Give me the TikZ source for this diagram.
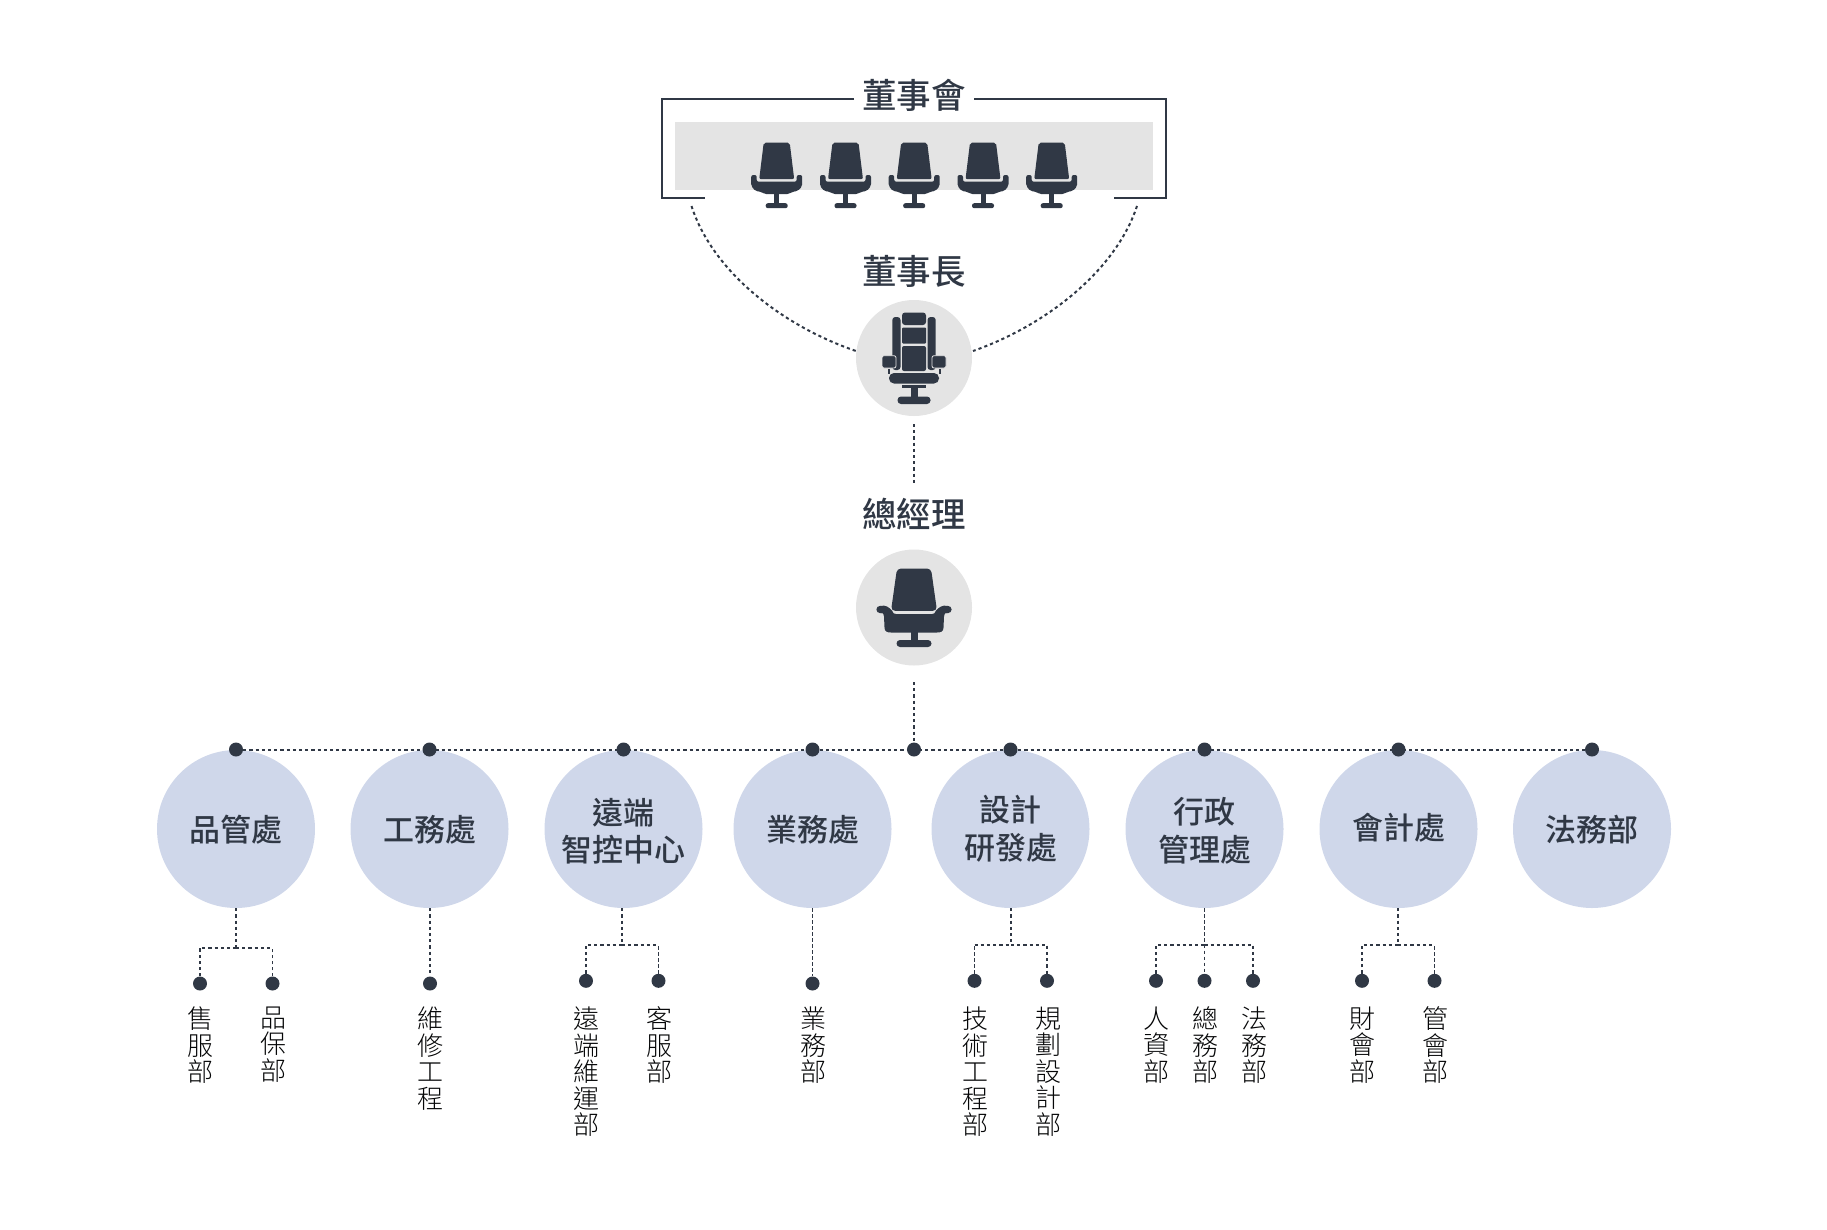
\documentclass[tikz,border=0pt]{standalone}
\usepackage{fontspec}
\newfontfamily\cjk{Noto Sans CJK TC Light}
\newfontfamily\cjkm{Noto Sans CJK TC Medium}
\definecolor{ink}{HTML}{303845}
\definecolor{pale}{HTML}{E4E4E4}
\definecolor{dept}{HTML}{CFD7EA}
\usetikzlibrary{calc}
\tikzset{
  dashline/.style={draw=ink,line width=2pt,dash pattern=on 3.2pt off 3pt},
  thinline/.style={draw=ink,line width=1.1pt,dash pattern=on 3.4pt off 2.6pt},
  framed/.style={draw=ink,line width=2pt},
  title/.style={font=\cjkm\fontsize{34.5}{38}\selectfont,text=ink,inner sep=0pt},
  deptc/.style={circle,fill=dept,minimum size=158pt,inner sep=0pt},
  deptt/.style={inner sep=0pt,font=\cjkm\fontsize{31}{37.5}\selectfont,text=ink,align=center},
  headc/.style={circle,fill=pale,minimum size=116pt,inner sep=0pt},
  dot/.style={circle,fill=ink,minimum size=14pt,inner sep=0pt},
  vtext/.style={anchor=north,inner sep=0pt,align=center,font=\cjk\fontsize{26}{26.6}\selectfont,text=black!90!ink},
  chair/.pic={
    \begin{scope}[fill=ink]
      \fill[rounded corners=2pt] (-13,0) -- (13,0) -- (17.5,36.5) -- (-17.5,36.5) -- cycle;
      \fill[rounded corners=2pt] (-25.5,32.3) -- (-20,32.3) -- (-20,39) -- (20,39) -- (20,32.3) -- (25.5,32.3) -- (25.5,43.5) -- (21,48.5) -- (15.5,49) -- (12,51.5) -- (-12,51.5) -- (-15.5,49) -- (-21,48.5) -- (-25.5,43.5) -- cycle;
      \fill (-2.5,50) rectangle (2.5,61);
      \fill[rounded corners=2.2pt] (-11,60.5) rectangle (11,65.5);
    \end{scope}
  },
  gmchair/.pic={
    \begin{scope}[fill=ink]
      \fill[rounded corners=4pt] (-17,-39) -- (17,-39) -- (23,3.3) -- (-23,3.3) -- cycle;
      \fill (-34,-1.5) .. controls (-28,-3) and (-25,0) .. (-22,3) .. controls (-21,6) and (-20,6.5) .. (-18,6.5) -- (18,6.5) .. controls (20,6.5) and (21,6) .. (22,3) .. controls (25,0) and (28,-3) .. (34,-1.5) -- (34,5.5) .. controls (31,5) and (30,6) .. (30,9) -- (29.5,20) .. controls (29.5,24) and (27,25) .. (23,25) -- (-23,25) .. controls (-27,25) and (-29.5,24) .. (-29.5,20) -- (-30,9) .. controls (-30,6) and (-31,5) .. (-34,5.5) -- cycle;
      \fill (-34,2) circle (3.6);
      \fill (34,2) circle (3.6);
      \fill (-3.5,24) rectangle (3.5,34);
      \fill[rounded corners=3.5pt] (-17.5,32.5) rectangle (17.5,39.5);
    \end{scope}
  },
  bosschair/.pic={
    \begin{scope}[fill=ink]
      \fill[rounded corners=3pt] (-12,-45.5) rectangle (12,-33);
      \fill[rounded corners=1pt] (-12,-30.5) rectangle (12,-14.5);
      \fill[rounded corners=2pt] (-12,-12) rectangle (12,13);
      \fill[rounded corners=3pt] (-21.7,-41) rectangle (-13.5,12);
      \fill[rounded corners=3pt] (13.5,-41) rectangle (21.7,12);
      \filldraw[rounded corners=2pt,draw=pale,line width=.8pt] (-32,-2.3) rectangle (-18,10);
      \filldraw[rounded corners=2pt,draw=pale,line width=.8pt] (18,-2.3) rectangle (32,10);
      \fill (-26.5,11) rectangle (-24.5,16);
      \fill (24.5,11) rectangle (26.5,16);
      \fill[rounded corners=5pt] (-25,15) rectangle (25,25.5);
      \fill (-12,27) rectangle (12,30);
      \fill (-3.5,29) rectangle (3.5,39);
      \fill[rounded corners=3.5pt] (-16.5,38.5) rectangle (16.5,46);
    \end{scope}
  }
}
\begin{document}
\begin{tikzpicture}[x=1pt,y=-1pt]
\useasboundingbox (0,0) rectangle (1827,1229);
% Board
\fill[pale] (675,121.5) rectangle (1153,190);
\coordinate (fa) at (854,99); \coordinate (fb) at (974,99);
\coordinate (fc) at (705,198); \coordinate (fd) at (1114,198);
\draw[framed] (fa) -- (662,99) -- (662,198) -- (fc);
\draw[framed] (fb) -- (1166,99) -- (1166,198) -- (fd);
\node[title] (board) at (914,95) {董事會};
\foreach \cx in {776.7,845.5,914.2,983,1051.7} \pic at (\cx,142.7) {chair};
% Chairman
\node[title] (chairlabel) at (914,271.5) {董事長};
\node[headc] (boss) at (914,358) {};
\pic at (boss.center) {bosschair};
\coordinate (cl) at (691.5,206); \coordinate (cr) at (1137,206);
\coordinate (bl) at (856,351); \coordinate (br) at (973,351);
\draw[dashline] (cl) .. controls (712,270) and (780,325) .. (bl);
\draw[dashline] (cr) .. controls (1116,270) and (1047,325) .. (br);
% GM
\node[title] (gmlabel) at (914,514) {總經理};
\node[headc] (gm) at (914,607.5) {};
\pic at (gm.center) {gmchair};
\coordinate (a1) at (914,424); \coordinate (a2) at (914,485);
\draw[dashline] (a1) -- (a2);
\coordinate (a3) at (914,682);
% Departments
\node[deptc] (c1) at (236,829) {};
\node[deptc] (c2) at (429.5,829) {};
\node[deptc] (c3) at (623.5,829) {};
\node[deptc] (c4) at (812.5,829) {};
\node[deptc] (c5) at (1010.5,829) {};
\node[deptc] (c6) at (1204.5,829) {};
\node[deptc] (c7) at (1398.5,829) {};
\node[deptc] (c8) at (1592,829) {};
\node[deptt] (n1) at (236,830) {品管處};
\node[deptt] (n2) at (429.5,830) {工務處};
\node[deptt] (n3) at (623.5,831) {遠端\\智控中心};
\node[deptt] (n4) at (812.5,830) {業務處};
\node[deptt] (n5) at (1010.5,828.5) {設計\\研發處};
\node[deptt] (n6) at (1204.5,831) {行政\\管理處};
\node[deptt] (n7) at (1398.5,828) {會計處};
\node[deptt] (n8) at (1592,830) {法務部};
\node[dot] (t1) at (236,749.5) {};
\node[dot] (t2) at (429.5,749.5) {};
\node[dot] (t3) at (623.5,749.5) {};
\node[dot] (t4) at (812.5,749.5) {};
\node[dot] (t0) at (914,749.5) {};
\node[dot] (t5) at (1010.5,749.5) {};
\node[dot] (t6) at (1204.5,749.5) {};
\node[dot] (t7) at (1398.5,749.5) {};
\node[dot] (t8) at (1592,749.5) {};
\draw[dashline] (a3) -- (t0);
\draw[dashline] (t1) -- (t8);
% Sub-departments: dots
\node[dot] (d11) at (200,983.5) {};
\node[dot] (d12) at (272.5,983.5) {};
\node[dot] (d21) at (430,983.5) {};
\node[dot] (d31) at (586,980.8) {};
\node[dot] (d32) at (658.5,980.8) {};
\node[dot] (d41) at (812.5,983.5) {};
\node[dot] (d51) at (974.5,980.8) {};
\node[dot] (d52) at (1047,980.8) {};
\node[dot] (d61) at (1156,980.8) {};
\node[dot] (d62) at (1204.5,980.8) {};
\node[dot] (d63) at (1253,980.8) {};
\node[dot] (d71) at (1362,980.8) {};
\node[dot] (d72) at (1434.5,980.8) {};
% Stems
\coordinate (j1) at (236,947.5); \coordinate (j3) at (622,944.5);
\coordinate (j5) at (1011,944.5); \coordinate (j6) at (1204.5,944.5); \coordinate (j7) at (1398,944.5);
\draw[dashline] (c1.south) -- (j1);
\draw[dashline] (c3.south -| j3) -- (j3);
\draw[dashline] (c5.south -| j5) -- (j5);
\draw[thinline] (c6.south) -- (j6);
\draw[dashline] (c7.south -| j7) -- (j7);
\draw[dashline] (c2.south -| d21) -- (d21);
\draw[thinline] (c4.south) -- (d41);
% Branches
\draw[dashline] (d11) |- (j1);
\draw[dashline] (j1) -- (d12|-j1);
\draw[thinline] (d12) -- (d12|-j1);
\draw[dashline] (d31) |- (j3);
\draw[dashline] (j3) -- (d32|-j3);
\draw[thinline] (d32) -- (d32|-j3);
\draw[thinline] (d51) -- (d51|-j5);
\draw[dashline] (d51|-j5) -- (j5);
\draw[dashline] (j5) -- (d52|-j5) -- (d52);
\draw[dashline] (d61) |- (j6);
\draw[dashline] (j6) -| (d63);
\draw[thinline] (j6) -- (d62);
\draw[dashline] (d71) |- (j7);
\draw[dashline] (j7) -- (d72|-j7);
\draw[thinline] (d72) -- (d72|-j7);
% Labels
\node[vtext] (l11) at (200,1006.5) {售\\服\\部};
\node[vtext] (l12) at (273,1006.5) {品\\保\\部};
\node[vtext] (l21) at (430,1006.5) {維\\修\\工\\程};
\node[vtext] (l31) at (586.5,1006.5) {遠\\端\\維\\運\\部};
\node[vtext] (l32) at (659.5,1006.5) {客\\服\\部};
\node[vtext] (l41) at (813,1006.5) {業\\務\\部};
\node[vtext] (l51) at (975.5,1006.5) {技\\術\\工\\程\\部};
\node[vtext] (l52) at (1048.5,1006.5) {規\\劃\\設\\計\\部};
\node[vtext] (l61) at (1156,1006.5) {人\\資\\部};
\node[vtext] (l62) at (1205,1006.5) {總\\務\\部};
\node[vtext] (l63) at (1254,1006.5) {法\\務\\部};
\node[vtext] (l71) at (1362.5,1006.5) {財\\會\\部};
\node[vtext] (l72) at (1435.5,1006.5) {管\\會\\部};
\end{tikzpicture}
\end{document}
